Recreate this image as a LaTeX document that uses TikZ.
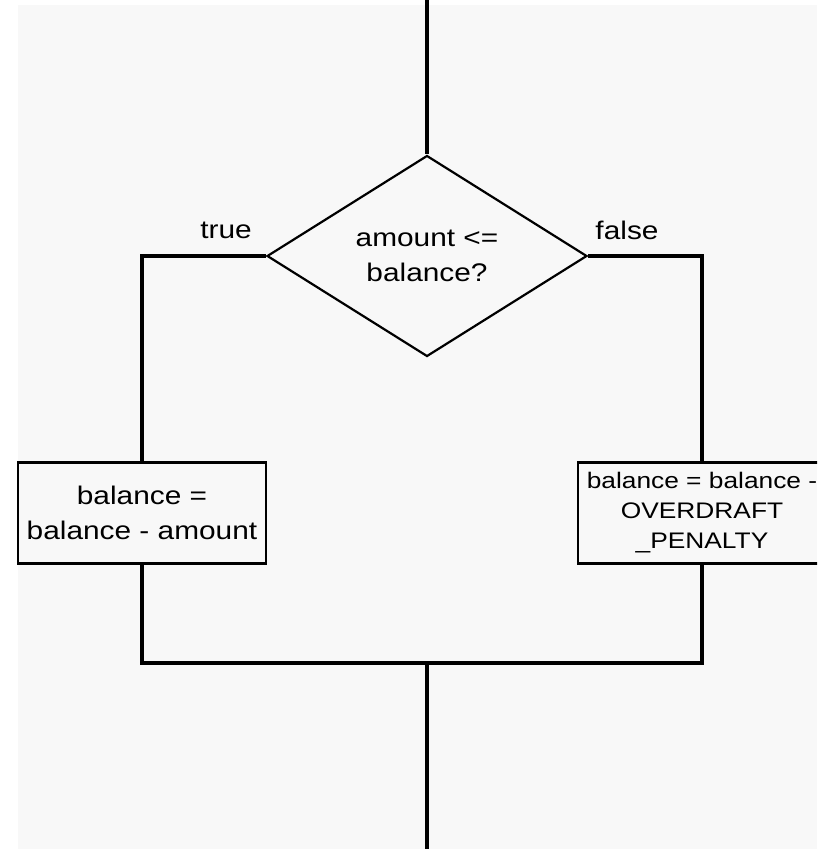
\documentclass[tikz,border=0pt]{standalone}
\usepackage{fontspec}
\setmainfont[FakeStretch=1.17]{Liberation Sans}
\usetikzlibrary{shapes.geometric}
\definecolor{paper}{RGB}{248,248,248}

\begin{document}
\begin{tikzpicture}[x=1pt,y=-1pt,
  flow/.style={line width=3.4pt},
  txt/.style={font=\fontsize{25.5}{35}\selectfont,align=center},
  decision/.style={draw,diamond,line width=2.2pt,minimum width=320pt,minimum height=201pt,inner sep=0pt,txt},
  action/.style={draw,rectangle,line width=2.2pt,minimum width=248pt,minimum height=101pt,inner sep=0pt,txt}]
  \useasboundingbox (0,0) rectangle (817,849);
  \clip (0,0) rectangle (817,849);
  \fill[white] (0,0) rectangle (817,849);
  \fill[paper] (18,5) rectangle (817,849);
  \coordinate (start) at (427,0);
  \coordinate (join) at (427,663);
  \coordinate (finish) at (427,849);
  \node[decision] (test) at (427,256) {amount <=\\balance?};
  \node[action] (yes) at (142,513) {balance =\\balance - amount};
  \node[action,font=\fontsize{22.5}{30}\selectfont] (no) at (702,513) {balance = balance -\\OVERDRAFT\\\_PENALTY};
  \node[txt] (truelbl) at (226,230) {true};
  \node[txt] (falselbl) at (627,230) {false};
  \draw[flow] (start) -- (test.north);
  \draw[flow] (test.west) -| (yes.north);
  \draw[flow] (test.east) -| (no.north);
  \draw[flow] (yes.south) |- (join) -| (no.south);
  \draw[flow] (join) -- (finish);
\end{tikzpicture}
\end{document}
